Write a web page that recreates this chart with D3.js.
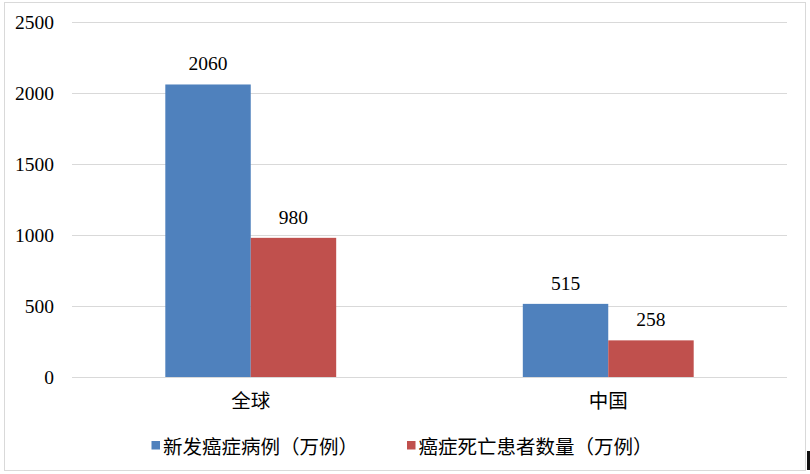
<!DOCTYPE html>
<html>
<head>
<meta charset="utf-8">
<script src="https://cdn.jsdelivr.net/npm/d3@7"></script>
<style>
  html, body { margin: 0; padding: 0; background: #fff; }
  svg { display: block; }
  text { fill: #000; }
</style>
</head>
<body>
<div id="chart"></div>
<script>
'use strict'

// data
var categories = ['全球', '中国']
var seriesNames = ['新发癌症病例（万例）', '癌症死亡患者数量（万例）']
var newCases = [2060, 515]
var deaths = [980, 258]
var yTicks = [0, 500, 1000, 1500, 2000, 2500]
var colors = ['#4F81BD', '#C0504D']

var width = 810, height = 474
var margin = {top: 22, right: 23, bottom: 97, left: 72}
var serif = '"Liberation Serif", "Noto Sans CJK SC", serif'
var cjk = '"Noto Sans CJK SC", sans-serif'

var svg = d3.select('#chart').append('svg')
  .attr('width', width)
  .attr('height', height)

// chart frame
svg.append('rect')
  .attr('x', 4.5).attr('y', 2.5)
  .attr('width', 801).attr('height', 468)
  .attr('fill', '#fff')
  .attr('stroke', '#D9D9D9')
  .attr('stroke-width', 1)

// small dark mark at the right edge of the original screenshot
svg.append('rect')
  .attr('x', 807).attr('y', 451)
  .attr('width', 3).attr('height', 19)
  .attr('fill', '#111')

var y = d3.scaleLinear()
  .domain([0, 2500])
  .range([height - margin.bottom, margin.top])

var x0 = d3.scaleBand()
  .domain(categories)
  .range([margin.left, width - margin.right])
  .padding(0)

// Excel style gap: the bar pair takes ~48% of each category band
var groupW = x0.bandwidth() * 0.478
var x1 = d3.scaleBand()
  .domain(seriesNames)
  .range([(x0.bandwidth() - groupW) / 2, (x0.bandwidth() + groupW) / 2])
  .padding(0)

// gridlines + y labels
var yAxis = d3.axisLeft(y)
  .tickValues(yTicks)
  .tickSize(-(width - margin.left - margin.right))
  .tickPadding(18)
  .tickFormat(d3.format('d'))

var gy = svg.append('g')
  .attr('transform', 'translate(' + margin.left + ',0)')
  .call(yAxis)
gy.select('.domain').remove()
gy.selectAll('.tick line').attr('stroke', '#D9D9D9').attr('stroke-width', 1)
gy.selectAll('.tick text')
  .attr('font-family', serif)
  .attr('font-size', 19.5)
  .attr('fill', '#000')

// category labels
var xAxis = d3.axisBottom(x0).tickSize(0).tickPadding(17)
var gx = svg.append('g')
  .attr('transform', 'translate(0,' + y(0) + ')')
  .call(xAxis)
gx.select('.domain').remove()
gx.selectAll('.tick text')
  .attr('font-family', cjk)
  .attr('font-size', 19.5)
  .attr('fill', '#000')

var rows = categories.map(function(c, i){
  return {cat: c, values: [newCases[i], deaths[i]]}
})

var groups = svg.append('g').selectAll('g')
  .data(rows).enter()
  .append('g')
  .attr('transform', function(d){ return 'translate(' + x0(d.cat) + ',0)' })

groups.selectAll('rect')
  .data(function(d){
    return d.values.map(function(v, j){ return {name: seriesNames[j], value: v, j: j} })
  }).enter()
  .append('rect')
  .attr('x', function(d){ return x1(d.name) })
  .attr('y', function(d){ return y(d.value) })
  .attr('width', x1.bandwidth())
  .attr('height', function(d){ return y(0) - y(d.value) })
  .attr('fill', function(d){ return colors[d.j] })

groups.selectAll('text.val')
  .data(function(d){
    return d.values.map(function(v, j){ return {name: seriesNames[j], value: v} })
  }).enter()
  .append('text')
  .attr('class', 'val')
  .attr('x', function(d){ return x1(d.name) + x1.bandwidth() / 2 })
  .attr('y', function(d){ return y(d.value) - 14 })
  .attr('text-anchor', 'middle')
  .attr('font-family', serif)
  .attr('font-size', 19.5)
  .text(function(d){ return d.value })

// legend
var legendX = [151.5, 407]
var legend = svg.append('g').selectAll('g')
  .data(seriesNames).enter()
  .append('g')
  .attr('transform', function(d, i){ return 'translate(' + legendX[i] + ',445)' })

legend.append('rect')
  .attr('x', 0).attr('y', -4)
  .attr('width', 8.5).attr('height', 8.5)
  .attr('fill', function(d, i){ return colors[i] })

legend.append('text')
  .attr('x', 11.5)
  .attr('y', 0)
  .attr('dominant-baseline', 'central')
  .attr('font-family', cjk)
  .attr('font-size', 19.5)
  .text(function(d){ return d })
</script>
</body>
</html>
